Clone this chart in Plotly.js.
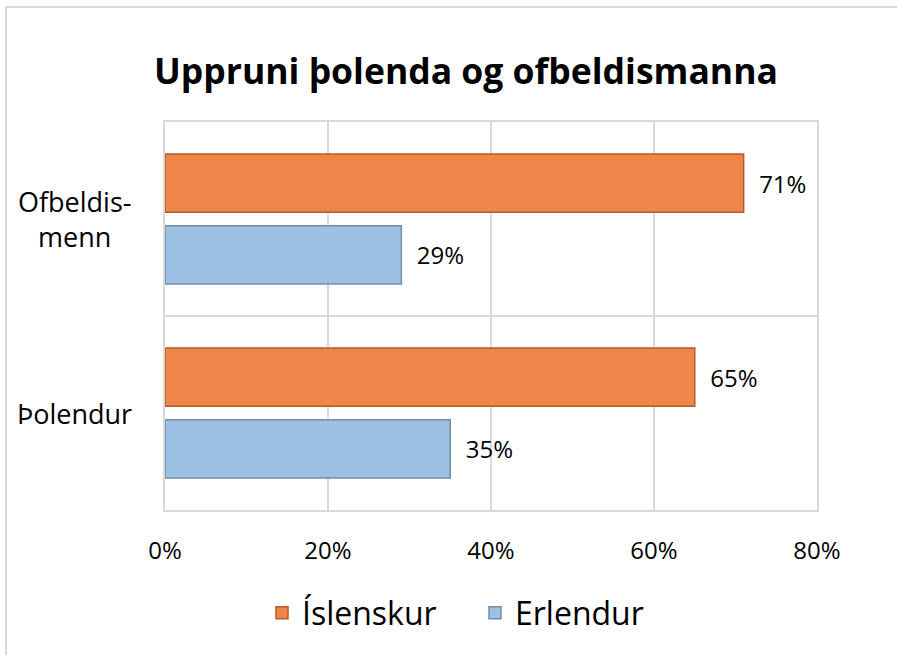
<!DOCTYPE html>
<html>
<head>
<meta charset="utf-8">
<script src="https://cdn.plot.ly/plotly-3.0.1.min.js"></script>
<style>
  html, body { margin: 0; padding: 0; background: #fff; overflow: hidden; }
  #frame { position: absolute; left: 5px; top: 6px; width: 1000px; height: 800px;
           border-left: 2px solid #d9d9d9; border-top: 2px solid #d9d9d9; }
  #chart { position: absolute; left: 0; top: 0; width: 897px; height: 655px; }
</style>
</head>
<body>
<div id="frame"></div>
<div id="chart"></div>
<script>
const categories = ["Þolendur", "Ofbeldis-<br>menn"];
const seriesNames = ["Íslenskur", "Erlendur"];
const islenskur = [65, 71];
const erlendur = [35, 29];
const xTickVals = [0, 20, 40, 60, 80];
const xTickText = ["0%", "20%", "40%", "60%", "80%"];

const FONT = "Open Sans, Noto Sans, DejaVu Sans, sans-serif";

const traces = [
  {
    type: "bar", orientation: "h", name: seriesNames[1],
    y: categories, x: erlendur,
    marker: { color: "#9dc1e2", line: { color: "#6f8fb0", width: 1.5 } },
    text: erlendur.map(v => "\u00a0\u00a0" + v + "%"),
    texttemplate: "%{text}",
    textposition: "outside", cliponaxis: false,
    textfont: { family: FONT, size: 24, color: "#000" },
    legendrank: 2, hoverinfo: "x+name"
  },
  {
    type: "bar", orientation: "h", name: seriesNames[0],
    y: categories, x: islenskur,
    marker: { color: "#ef8649", line: { color: "#b65b27", width: 1.5 } },
    text: islenskur.map(v => "\u00a0\u00a0" + v + "%"),
    texttemplate: "%{text}",
    textposition: "outside", cliponaxis: false,
    textfont: { family: FONT, size: 24, color: "#000" },
    legendrank: 1, hoverinfo: "x+name"
  }
];

// category labels, centred like the original, placed at each category on the y scale
const catAnnotations = categories.map(c => ({
  xref: "paper", x: -91 / 652, xanchor: "center",
  yref: "y", y: c, yanchor: "middle",
  text: c, showarrow: false, align: "center",
  font: { family: FONT, size: 27, color: "#000" }
}));

const layout = {
  width: 897, height: 655,
  paper_bgcolor: "rgba(0,0,0,0)", plot_bgcolor: "#fff",
  margin: { l: 165, r: 80, t: 122, b: 145 },
  font: { family: FONT, color: "#000" },
  title: {
    text: "<b>Uppruni þolenda og ofbeldismanna</b>",
    font: { family: FONT, size: 35.5, color: "#000" },
    x: 466 / 897, xref: "container", xanchor: "center",
    y: 1 - 72 / 655, yref: "container", yanchor: "middle"
  },
  barmode: "group", bargap: 0.26, bargroupgap: 0.19,
  xaxis: {
    range: [0, 80], tickvals: xTickVals, ticktext: xTickText,
    showgrid: true, gridcolor: "#d9d9d9", gridwidth: 1.5,
    showline: true, linecolor: "#d9d9d9", linewidth: 1.5, mirror: true,
    zeroline: false, ticks: "", ticklabelstandoff: 18,
    tickfont: { family: FONT, size: 24, color: "#000" },
    fixedrange: true
  },
  yaxis: {
    type: "category", categoryorder: "array", categoryarray: categories,
    tickson: "boundaries", showgrid: true, gridcolor: "#d9d9d9", gridwidth: 1.5,
    showline: true, linecolor: "#d9d9d9", linewidth: 1.5, mirror: true,
    ticks: "", showticklabels: false,
    fixedrange: true
  },
  annotations: catAnnotations,
  showlegend: true,
  legend: {
    orientation: "h", x: 262 / 897, xref: "container", xanchor: "left",
    y: 1 - 613 / 655, yref: "container", yanchor: "middle",
    font: { family: FONT, size: 32, color: "#000" },
    entrywidth: 168, entrywidthmode: "pixels",
    itemwidth: 30, traceorder: "normal"
  }
};

Plotly.newPlot("chart", traces, layout, { displayModeBar: false });
</script>
</body>
</html>
